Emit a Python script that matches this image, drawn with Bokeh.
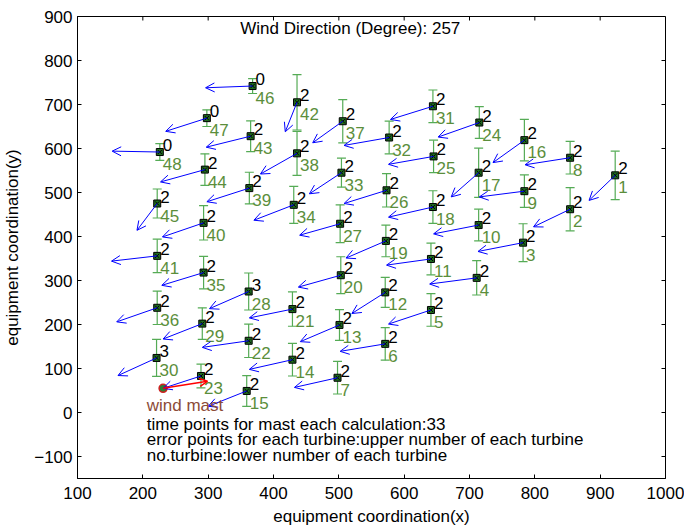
import math
from bokeh.plotting import figure
from bokeh.models import (Arrow, OpenHead, Whisker, TeeHead, ColumnDataSource,
                          FixedTicker, Range1d, Label)
from bokeh.core.properties import value
from bokeh.embed import file_html
from bokeh.resources import INLINE

# turbine number
turbine_no = list(range(1, 49))
# turbine coordinates
tx = [923, 854, 782, 711, 641, 571, 498, 854, 784, 714, 641, 571, 501, 429, 359, 784,
      714, 644, 572, 503, 429, 362, 289, 715, 645, 573, 502, 362, 291, 221, 644, 577,
      504, 431, 293, 222, 506, 436, 363, 293, 222, 436, 365, 295, 222, 368, 298, 226]
ty = [539, 462, 386, 306, 233, 156, 79, 579, 503, 426, 349, 273, 199, 120, 49, 619,
      545, 467, 390, 312, 235, 163, 83, 659, 582, 505, 429, 275, 202, 124, 696, 625,
      545, 472, 318, 238, 662, 589, 510, 431, 356, 705, 628, 552, 475, 742, 669, 592]
# error bar half length
err = [55, 49, 43, 39, 37, 37, 37, 37, 37, 36, 36, 34, 35, 37, 35, 47,
       56, 37, 36, 42, 39, 38, 27, 36, 37, 38, 43, 42, 36, 42, 37, 37,
       33, 42, 37, 38, 49, 50, 36, 39, 38, 63, 35, 36, 33, 17, 19, 19]
# wind vector components at each turbine
u = [-40, -56, -69, -72, -65, -69, -66, -69, -69, -69, -68, -51, -60, -66, -59, -48,
     -42, -68, -61, -65, -66, -71, -58, -63, -69, -65, -62, -60, -60, -59, -65, -69,
     -49, -61, -64, -62, -46, -56, -65, -63, -70, -18, -68, -68, -31, -72, -63, -73]
v = [-57, -40, -20, -14, -32, -17, -22, -16, -13, -20, -14, -48, -38, -22, -35, -51,
     -55, -23, -39, -27, -20, -15, -28, -33, -18, -30, -26, -39, -35, -40, -30, -18,
     -48, -35, -29, -32, -49, -47, -31, -32, -12, -67, -25, -28, -61, -4, -30, 2]
# error points (upper number)
err_points = [2] * 48
err_points[27] = 3
err_points[29] = 3
err_points[45] = 0
err_points[46] = 0
err_points[47] = 0

# wind mast
mast_x = [231]
mast_y = [55]
mast_u = [68]
mast_v = [16]

x_ticks = [100, 200, 300, 400, 500, 600, 700, 800, 900, 1000]
y_ticks = [-100, 0, 100, 200, 300, 400, 500, 600, 700, 800, 900]
X_MIN, X_MAX, Y_MIN, Y_MAX = 100, 1000, -150, 900

FONT = "Liberation Sans"

p = figure(width=684, height=528, x_range=Range1d(X_MIN, X_MAX), y_range=Range1d(Y_MIN, Y_MAX),
           output_backend="svg", toolbar_location=None,
           min_border_left=77, min_border_right=19, min_border_top=16, min_border_bottom=50)
p.xgrid.visible = False
p.ygrid.visible = False
p.outline_line_color = "black"
p.outline_line_width = 1
p.background_fill_color = "white"
p.border_fill_color = "white"

for ax, ticks in ((p.xaxis[0], x_ticks), (p.yaxis[0], y_ticks)):
    ax.ticker = FixedTicker(ticks=ticks)
    ax.major_tick_in = 4
    ax.major_tick_out = 0
    ax.minor_tick_line_color = None
    ax.axis_line_color = "black"
    ax.major_tick_line_color = "black"
    ax.major_label_text_font = FONT
    ax.major_label_text_font_size = "17px"
    ax.major_label_text_color = "black"
    ax.axis_label_text_font = FONT
    ax.axis_label_text_font_size = "17px"
    ax.axis_label_text_font_style = "normal"
    ax.axis_label_text_color = "black"
p.xaxis.axis_label = "equipment coordination(x)"
p.yaxis.axis_label = "equipment coordination(y)"
p.xaxis.major_label_standoff = 8
p.xaxis.axis_label_standoff = 5
p.yaxis.major_label_standoff = 5
p.yaxis.axis_label_standoff = 9

# inner ticks on the top and right edges of the box
p.ray(x=x_ticks, y=[Y_MAX] * len(x_ticks), length=4, length_units="screen",
      angle=-math.pi / 2, line_color="black", line_width=1)
p.ray(x=[X_MAX] * len(y_ticks), y=y_ticks, length=4, length_units="screen",
      angle=math.pi, line_color="black", line_width=1)

src = ColumnDataSource(dict(
    x=tx, y=ty,
    upper=[a + e for a, e in zip(ty, err)],
    lower=[a - e for a, e in zip(ty, err)],
    xe=[a + b for a, b in zip(tx, u)],
    ye=[a + b for a, b in zip(ty, v)],
    no=[str(n) for n in turbine_no],
    cnt=[str(c) for c in err_points],
))

# error bars
EB = "#55ab55"
p.add_layout(Whisker(source=src, base="x", upper="upper", lower="lower", dimension="height",
                     line_color=EB, line_width=1.2,
                     upper_head=TeeHead(size=9, line_color=EB, line_width=1.2),
                     lower_head=TeeHead(size=9, line_color=EB, line_width=1.2)))

# wind arrows
p.add_layout(Arrow(source=src, x_start="x", y_start="y", x_end="xe", y_end="ye",
                   line_color="blue", line_width=1,
                   end=OpenHead(size=9, line_color="blue", line_width=1)))

msrc = ColumnDataSource(dict(x=mast_x, y=mast_y,
                             xe=[a + b for a, b in zip(mast_x, mast_u)],
                             ye=[a + b for a, b in zip(mast_y, mast_v)]))
p.add_layout(Arrow(source=msrc, x_start="x", y_start="y", x_end="xe", y_end="ye",
                   line_color="red", line_width=1.5,
                   end=OpenHead(size=8, line_color="red", line_width=1.5)))

# turbine markers
p.scatter("x", "y", source=src, marker="square", size=7, fill_color="#1f6b1f",
          line_color="black", line_width=1)
p.scatter("x", "y", source=src, marker="x", size=6, line_color="black", line_width=1)
p.scatter("x", "y", source=msrc, marker="circle", size=8, fill_color="#2e7d32",
          line_color="#d02020", line_width=1.5)

# labels
p.text("x", "y", text="cnt", source=src, x_offset=3, y_offset=-7,
       text_font=value(FONT), text_font_size="17px", text_color="black",
       text_baseline="middle", text_align="left")
p.text("x", "y", text="no", source=src, x_offset=3, y_offset=12,
       text_font=value(FONT), text_font_size="17px", text_color="#5b8e3b",
       text_baseline="middle", text_align="left")

def add_label(x, y, text, color="black"):
    p.add_layout(Label(x=x, y=y, text=text, text_font=FONT, text_font_size="17px",
                       text_color=color, text_baseline="middle", text_align="left"))

add_label(349, 873, "Wind Direction (Degree): 257")
add_label(206, 17, "wind mast", "#8c4b37")
add_label(206, -28, "time points for mast each calculation:33")
add_label(206, -62, "error points for each turbine:upper number of each turbine")
add_label(206, -98, "no.turbine:lower number of each turbine")

open("out.html", "w").write(file_html(p, INLINE))
